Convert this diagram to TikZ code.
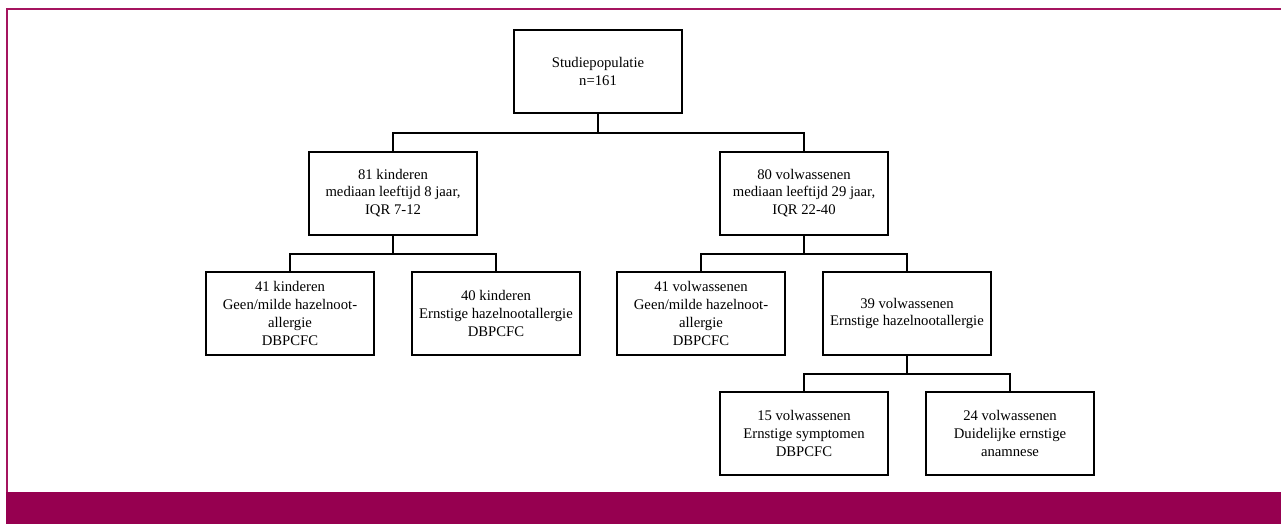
\documentclass[tikz,border=0pt]{standalone}
\usepackage{fontspec}
\setmainfont{Liberation Serif}
\definecolor{barmaroon}{RGB}{150,0,80}
\definecolor{framemaroon}{RGB}{165,20,95}
\begin{document}
\begin{tikzpicture}[x=1pt,y=-1pt,
  box/.style={draw=black,line width=2pt,minimum width=168pt,minimum height=83pt,
    align=center,inner sep=0pt,font=\fontsize{14.7}{17.7}\selectfont},
  conn/.style={draw=black,line width=2pt}]
\useasboundingbox (0,0) rectangle (1281,524);
\fill[barmaroon] (6,492) rectangle (1281,524);
\draw[framemaroon,line width=2pt,line join=miter] (7,492) -- (7,9) -- (1281,9);

\node[box] (pop) at (598,71.5) {Studiepopulatie\\n=161};
\node[box] (kid) at (393,193) {81 kinderen\\mediaan leeftijd 8 jaar,\\IQR 7-12};
\node[box] (adu) at (804,193) {80 volwassenen\\mediaan leeftijd 29 jaar,\\IQR 22-40};
\node[box] (k41) at (290,313.5) {41 kinderen\\Geen/milde hazelnoot-\\allergie\\DBPCFC};
\node[box] (k40) at (496,313.5) {40 kinderen\\Ernstige hazelnootallergie\\DBPCFC};
\node[box] (a41) at (701,313.5) {41 volwassenen\\Geen/milde hazelnoot-\\allergie\\DBPCFC};
\node[box] (a39) at (907,313.5) {39 volwassenen\\Ernstige hazelnootallergie};
\node[box] (a15) at (804,433.5) {15 volwassenen\\Ernstige symptomen\\DBPCFC};
\node[box] (a24) at (1010,433.5) {24 volwassenen\\Duidelijke ernstige\\anamnese};

\draw[conn] (pop.south) -- ++(0,19) -| (kid.north);
\draw[conn] (pop.south) -- ++(0,19) -| (adu.north);
\draw[conn] (kid.south) -- ++(0,18) -| (k41.north);
\draw[conn] (kid.south) -- ++(0,18) -| (k40.north);
\draw[conn] (adu.south) -- ++(0,18) -| (a41.north);
\draw[conn] (adu.south) -- ++(0,18) -| (a39.north);
\draw[conn] (a39.south) -- ++(0,18) -| (a15.north);
\draw[conn] (a39.south) -- ++(0,18) -| (a24.north);
\end{tikzpicture}
\end{document}
